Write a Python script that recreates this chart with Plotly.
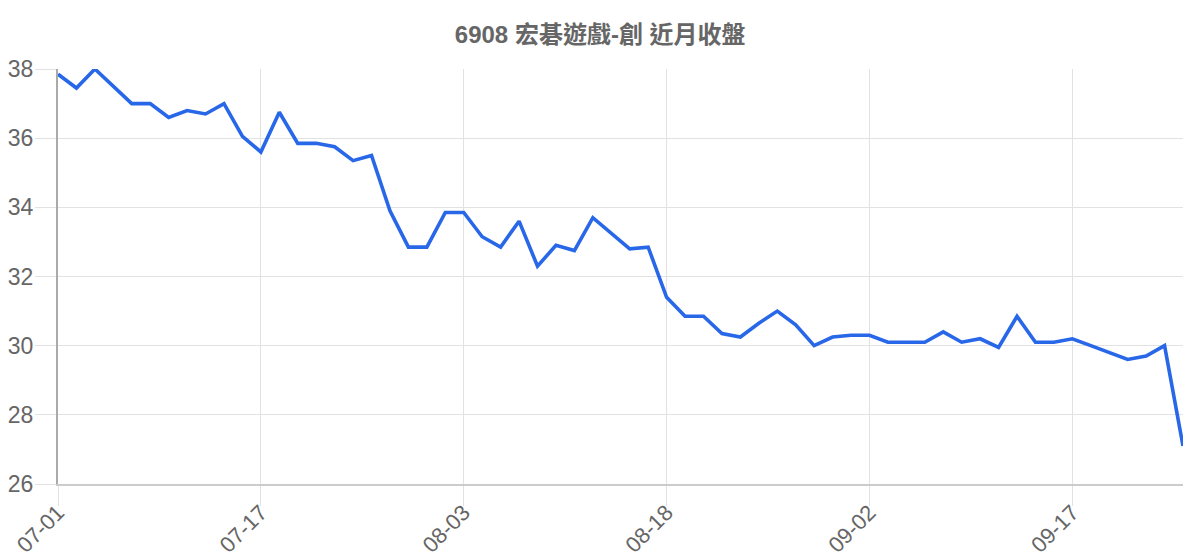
"""
近月收盤 line chart for 6908 宏碁遊戲-創.
"""
import plotly.graph_objects as go

dates = [
    "07-01", "07-02", "07-03", "07-06", "07-07", "07-08", "07-09", "07-10",
    "07-13", "07-14", "07-16", "07-17",
    "07-20", "07-21", "07-22", "07-23", "07-24", "07-27", "07-28", "07-29",
    "07-30", "07-31", "08-03",
    "08-04", "08-05", "08-06", "08-07", "08-10", "08-11", "08-12", "08-13",
    "08-14", "08-17", "08-18",
    "08-19", "08-20", "08-21", "08-24", "08-25", "08-26", "08-27", "08-28",
    "08-31", "09-01", "09-02",
    "09-03", "09-04", "09-07", "09-08", "09-09", "09-10", "09-11", "09-14",
    "09-15", "09-16", "09-17",
    "09-18", "09-21", "09-22", "09-23", "09-24", "09-25",
]

close = [
    37.85, 37.45, 38.0, 37.5, 37.0, 37.0, 36.6, 36.8, 36.7, 37.0,
    36.05, 35.6, 36.75, 35.85, 35.85, 35.75, 35.35, 35.5, 33.9, 32.85,
    32.85, 33.85, 33.85, 33.15, 32.85, 33.6, 32.3, 32.9, 32.75, 33.7,
    33.25, 32.8, 32.85, 31.4, 30.85, 30.85, 30.35, 30.25, 30.65, 31.0,
    30.6, 30.0, 30.25, 30.3, 30.3, 30.1, 30.1, 30.1, 30.4, 30.1,
    30.2, 29.95, 30.85, 30.1, 30.1, 30.2, 30.0, 29.8, 29.6, 29.7,
    30.0, 27.1,
]

tick_labels = ["07-01", "07-17", "08-03", "08-18", "09-02", "09-17"]
y_ticks = [26, 28, 30, 32, 34, 36, 38]

FONT = "Liberation Sans, Arial, Noto Sans CJK TC, sans-serif"

fig = go.Figure()

fig.add_trace(
    go.Scatter(
        x=dates,
        y=close,
        mode="lines",
        line=dict(color="#2767e8", width=3.6),
        hoverinfo="x+y",
    )
)

# the page body has an 8px margin, so the margins below make up for it
fig.update_layout(
    title=dict(
        text="<b>6908 宏碁遊戲-創 近月收盤</b>",
        x=0.4935,
        xanchor="center",
        y=0.952,
        yanchor="middle",
        font=dict(family=FONT, size=24, color="#666666"),
    ),
    width=1200,
    height=560,
    margin=dict(l=50, r=25, t=61, b=84),
    plot_bgcolor="white",
    paper_bgcolor="white",
    showlegend=False,
    xaxis=dict(
        type="category",
        tickmode="array",
        tickvals=tick_labels,
        ticktext=tick_labels,
        tickangle=-45,
        range=[0, len(dates) - 1],
        automargin=False,
        showgrid=True,
        gridcolor="#e2e2e2",
        gridwidth=1,
        ticks="outside",
        ticklen=20,
        tickcolor="#e2e2e2",
        ticklabelstandoff=-15,
        showline=True,
        linecolor="#cccccc",
        linewidth=2,
        zeroline=False,
        tickfont=dict(family=FONT, size=22, color="#666666"),
    ),
    yaxis=dict(
        range=[26, 38],
        tickmode="array",
        tickvals=y_ticks,
        automargin=False,
        showgrid=True,
        gridcolor="#e2e2e2",
        gridwidth=1,
        ticks="outside",
        ticklen=21,
        tickcolor="#e2e2e2",
        ticklabelstandoff=-3,
        showline=True,
        linecolor="#aaaaaa",
        linewidth=2,
        zeroline=False,
        tickfont=dict(family=FONT, size=23, color="#666666"),
    ),
)

fig.write_html("out.html")
